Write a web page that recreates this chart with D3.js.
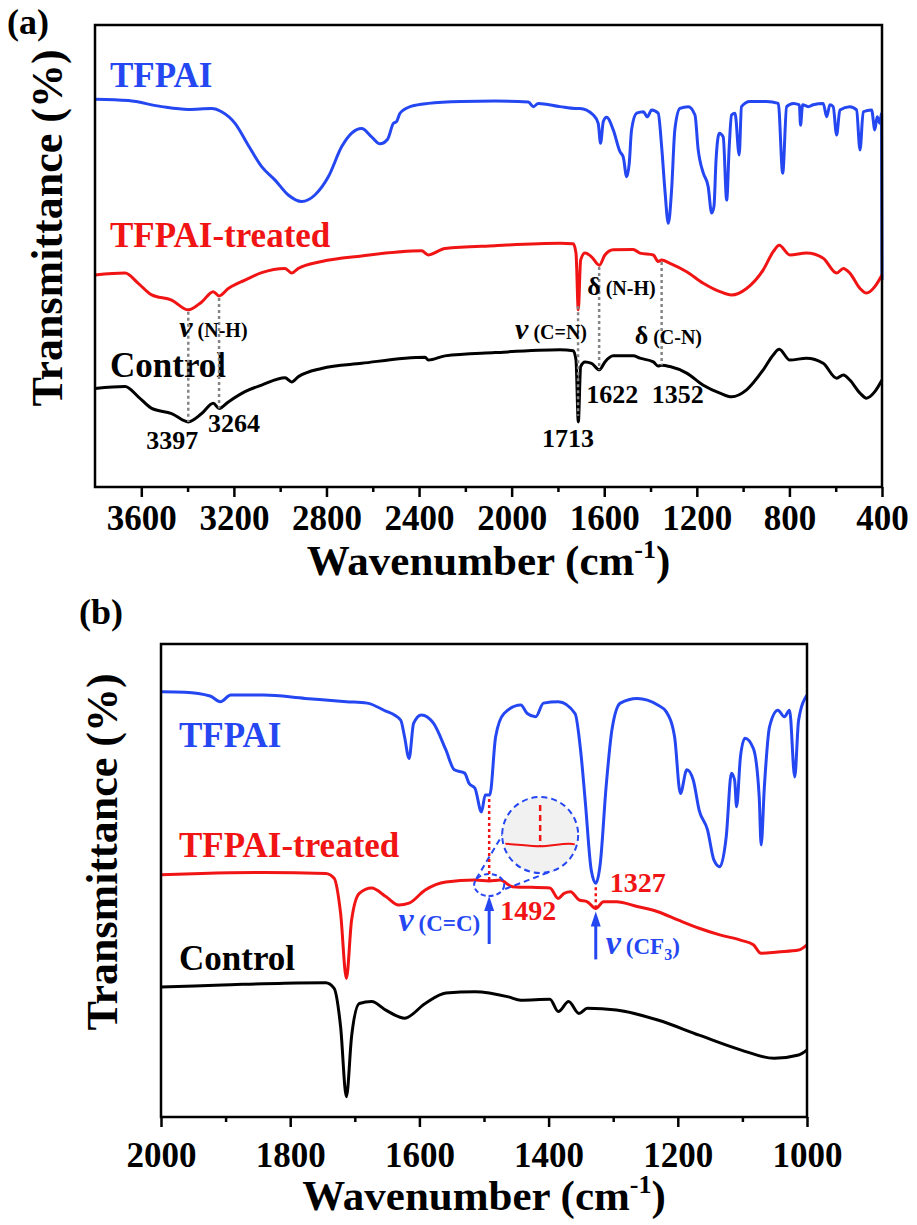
<!DOCTYPE html>
<html>
<head>
<meta charset="utf-8">
<script src="https://cdn.jsdelivr.net/npm/d3@7"></script>
<style>
  body { margin: 0; background: #fff; }
  svg { display: block; }
</style>
</head>
<body>
<svg id="chart" width="917" height="1225"></svg>
<script>
// ---------- panel (a): wavenumber (cm-1) vs transmittance (offset, a.u.) ----------
const aTicks = [3600, 3200, 2800, 2400, 2000, 1600, 1200, 800, 400];
const aMinorTicks = [3400, 3000, 2600, 2200, 1800, 1400, 1000, 600];

const aTfpai = [
  [3800, 83.4], [3656, 83.1], [3512, 81.8], [3397, 81.2], [3296, 81.4], [3253, 80.7],
  [3195, 78.2], [3138, 73.5], [3080, 68.9], [3022, 66.0], [2965, 62.8], [2907, 61.4],
  [2850, 62.8], [2792, 66.7], [2734, 73.2], [2691, 76.1], [2648, 77.1], [2605, 75.3],
  [2569, 73.8], [2536, 74.8], [2511, 78.2], [2497, 78.6], [2482, 80.4], [2432, 81.9],
  [2360, 82.5], [2216, 82.9], [2072, 83.0], [1928, 82.8], [1906, 81.8], [1885, 82.5],
  [1791, 81.8], [1726, 81.4], [1705, 81.4], [1647, 80.0], [1626, 78.2], [1616, 73.9],
  [1604, 78.6], [1590, 79.5], [1561, 76.8], [1532, 72.1], [1518, 71.0], [1503, 66.7],
  [1492, 69.6], [1482, 76.8], [1460, 80.4], [1431, 80.7], [1414, 79.6], [1395, 81.1],
  [1367, 80.4], [1352, 73.2], [1338, 63.9], [1323, 56.7], [1309, 63.9], [1295, 76.8],
  [1273, 81.4], [1237, 81.8], [1208, 80.0], [1194, 72.5], [1187, 70.3], [1172, 67.5],
  [1151, 64.6], [1136, 58.9], [1126, 60.3], [1117, 70.3], [1103, 76.1], [1086, 75.3],
  [1071, 61.7], [1060, 73.2], [1050, 80.0], [1035, 80.4], [1017, 71.4], [1007, 81.8],
  [971, 82.9], [899, 82.9], [848, 82.5], [829, 67.5], [812, 81.8], [783, 82.5],
  [757, 82.2], [752, 77.8], [743, 82.2], [719, 81.8], [697, 82.2], [654, 82.5],
  [639, 79.6], [625, 82.2], [611, 81.8], [596, 75.7], [582, 81.1], [539, 81.8],
  [510, 81.1], [495, 72.5], [481, 80.7], [445, 81.1], [431, 76.8], [421, 79.6],
  [409, 78.2], [402, 80.4], [400, 44.5]
];

const aTreated = [
  [3800, 45.6], [3670, 46.0], [3613, 43.8], [3555, 41.3], [3469, 40.2], [3397, 38.1],
  [3339, 39.8], [3289, 42.0], [3264, 41.1], [3224, 42.7], [3152, 44.5], [3080, 46.1],
  [2979, 47.0], [2950, 46.0], [2922, 47.0], [2821, 48.5], [2648, 49.7], [2389, 50.8],
  [2360, 49.9], [2288, 51.3], [2072, 51.9], [1791, 52.4], [1734, 52.3], [1722, 50.3],
  [1712, 38.1], [1702, 48.8], [1683, 50.3], [1655, 49.5], [1621, 47.7], [1597, 49.9],
  [1561, 51.0], [1475, 51.1], [1446, 50.3], [1388, 49.9], [1367, 48.5], [1352, 48.8],
  [1316, 48.1], [1244, 46.3], [1172, 43.8], [1100, 42.0], [1050, 41.3], [985, 42.7],
  [913, 46.7], [870, 50.6], [844, 52.0], [798, 49.9], [726, 50.3], [654, 49.2],
  [596, 46.0], [567, 47.0], [539, 46.0], [495, 42.7], [467, 41.7], [431, 43.1], [400, 45.6]
];

const aControl = [
  [3800, 21.2], [3670, 21.6], [3613, 19.4], [3555, 16.9], [3469, 15.8], [3397, 14.0],
  [3339, 15.8], [3289, 18.0], [3264, 16.9], [3224, 18.3], [3152, 20.5], [3080, 21.9],
  [2979, 23.5], [2950, 22.6], [2922, 23.7], [2821, 25.5], [2648, 26.6], [2374, 27.9],
  [2360, 27.3], [2288, 28.2], [2072, 28.9], [1791, 29.5], [1734, 29.3], [1722, 27.3],
  [1712, 14.0], [1702, 25.9], [1683, 26.9], [1655, 26.6], [1621, 25.2], [1597, 26.9],
  [1561, 28.2], [1475, 28.2], [1446, 27.7], [1388, 26.9], [1367, 26.0], [1352, 26.2],
  [1316, 25.9], [1244, 24.5], [1172, 21.9], [1100, 20.2], [1050, 19.4], [985, 20.9],
  [913, 25.2], [870, 28.4], [844, 29.6], [798, 27.3], [726, 27.7], [654, 26.6],
  [596, 23.4], [567, 24.1], [539, 23.0], [495, 20.2], [467, 19.1], [431, 20.5], [400, 23.0]
];

const aPeaks = [3397, 3264, 1713, 1622, 1352];

// ---------- panel (b) ----------
const bTicks = [2000, 1800, 1600, 1400, 1200, 1000];
const bMinorTicks = [1900, 1700, 1500, 1300, 1100];

const bTfpai = [
  [2000, 89.9], [1963, 89.8], [1924, 89.0], [1908, 87.8], [1892, 89.2], [1841, 89.2],
  [1777, 88.5], [1713, 87.8], [1681, 87.5], [1655, 86.0], [1629, 83.9], [1623, 80.4],
  [1616, 75.8], [1609, 83.2], [1597, 85.0], [1578, 83.2], [1559, 77.6], [1546, 73.4],
  [1530, 72.7], [1523, 70.5], [1514, 69.5], [1504, 64.5], [1498, 68.1], [1491, 68.1],
  [1482, 80.4], [1469, 85.3], [1443, 87.1], [1433, 85.3], [1420, 84.6], [1408, 87.5],
  [1385, 87.8], [1359, 85.3], [1350, 76.9], [1343, 66.3], [1334, 52.2], [1327, 49.4],
  [1320, 53.6], [1311, 69.8], [1302, 81.8], [1289, 87.5], [1263, 88.5], [1231, 87.1],
  [1218, 85.7], [1205, 80.4], [1196, 68.4], [1186, 73.4], [1176, 71.2], [1167, 64.9],
  [1154, 60.7], [1144, 54.3], [1135, 52.9], [1125, 59.3], [1117, 72.7], [1112, 71.2],
  [1109, 65.6], [1103, 76.2], [1096, 80.1], [1083, 77.9], [1074, 67.7], [1071, 57.5],
  [1066, 69.8], [1058, 82.5], [1045, 86.0], [1035, 84.6], [1027, 86.0], [1019, 71.9],
  [1013, 83.9], [1000, 89.2]
];

const bTreated = [
  [2000, 51.2], [1937, 51.5], [1841, 51.7], [1745, 51.5], [1732, 50.5], [1722, 43.1],
  [1713, 29.3], [1705, 41.6], [1693, 47.3], [1674, 48.4], [1652, 46.6], [1632, 44.8],
  [1616, 45.2], [1591, 48.0], [1559, 49.7], [1514, 50.1], [1492, 49.9], [1475, 50.1],
  [1456, 48.7], [1398, 48.4], [1385, 46.2], [1376, 47.3], [1366, 47.6], [1353, 45.9],
  [1340, 45.5], [1327, 44.1], [1315, 45.5], [1295, 45.5], [1263, 44.5], [1231, 43.4],
  [1199, 41.6], [1167, 39.9], [1135, 38.5], [1103, 37.4], [1083, 36.4], [1071, 34.6],
  [1045, 34.9], [1013, 35.3], [1000, 36.4]
];

const bControl = [
  [2000, 27.5], [1905, 27.9], [1809, 28.3], [1745, 28.4], [1732, 27.2], [1722, 19.1],
  [1713, 4.3], [1705, 17.0], [1693, 24.0], [1674, 24.4], [1652, 22.6], [1623, 20.9],
  [1591, 24.0], [1559, 26.2], [1514, 26.5], [1462, 25.4], [1443, 24.7], [1398, 24.9],
  [1385, 22.3], [1369, 24.4], [1353, 21.9], [1340, 23.0], [1295, 22.6], [1231, 20.5],
  [1167, 17.3], [1103, 14.2], [1051, 12.4], [1013, 13.1], [1000, 14.2]
];

const bPeaks = [1492, 1327];

// ---------- styling ----------
const FONT = '"Liberation Serif", "Times New Roman", serif';
const BLUE = "#2447f2";
const RED = "#f01414";
const GRAY = "#858585";

const svg = d3.select("#chart")
  .attr("font-family", FONT)
  .attr("font-weight", "bold");

// linear lookup of a series value at wavenumber w (series runs high -> low)
function valueAt(series, w) {
  for (let i = 0; i < series.length - 1; i++) {
    const [w0, v0] = series[i];
    const [w1, v1] = series[i + 1];
    if (w <= w0 && w >= w1) return v0 + (v1 - v0) * (w0 - w) / (w0 - w1);
  }
  return series[series.length - 1][1];
}

function drawPanel(p) {
  const x = d3.scaleLinear().domain(p.xDomain).range([p.left, p.right]);
  const y = d3.scaleLinear().domain([0, 100]).range([p.bottom, p.bottom - p.yPix]);
  const g = svg.append("g");

  // minor ticks
  const minor = g.append("g")
    .attr("transform", `translate(0,${p.bottom})`)
    .call(d3.axisBottom(x).tickValues(p.minor).tickSize(5).tickFormat(""));
  minor.select(".domain").remove();
  minor.selectAll("line").attr("stroke", "#000").attr("stroke-width", 2.5);

  // major ticks + labels
  const major = g.append("g")
    .attr("transform", `translate(0,${p.bottom})`)
    .call(d3.axisBottom(x).tickValues(p.major).tickSize(10)
      .tickPadding(p.labelPad).tickFormat(d3.format("d")));
  major.select(".domain").remove();
  major.selectAll("line").attr("stroke", "#000").attr("stroke-width", 2.5);
  major.selectAll("text")
    .attr("font-family", FONT).attr("font-weight", "bold")
    .attr("font-size", 35).attr("fill", "#000");

  // spectra
  const line = d3.line().x(d => x(d[0])).y(d => y(d[1])).curve(d3.curveMonotoneX);
  p.series.forEach(s => {
    g.append("path")
      .datum(s.data)
      .attr("d", line)
      .attr("fill", "none")
      .attr("stroke", s.color)
      .attr("stroke-width", 3)
      .attr("stroke-linejoin", "round");
  });

  // frame
  g.append("rect")
    .attr("x", p.left).attr("y", p.top)
    .attr("width", p.right - p.left).attr("height", p.bottom - p.top)
    .attr("fill", "none").attr("stroke", "#000").attr("stroke-width", 2.5);

  // axis titles
  const xt = g.append("text")
    .attr("x", (p.left + p.right) / 2).attr("y", p.bottom + p.titlePad)
    .attr("text-anchor", "middle").attr("font-size", 43);
  xt.append("tspan").text("Wavenumber (cm");
  xt.append("tspan").attr("font-size", 26).attr("dy", -17).text("-1");
  xt.append("tspan").attr("dy", 17).text(")");

  g.append("text")
    .attr("transform", `translate(${p.yTitleX},${p.yTitleY}) rotate(-90)`)
    .attr("text-anchor", "middle").attr("font-size", 44)
    .text("Transmittance (%)");

  g.append("text")
    .attr("x", p.tagX).attr("y", p.tagY)
    .attr("font-size", 36).text(p.tag);

  // series names
  p.series.forEach(s => {
    g.append("text")
      .attr("x", p.left + p.nameDx).attr("y", y(s.labelAt))
      .attr("font-size", 35).attr("fill", s.color)
      .text(s.name);
  });

  return { x, y, g };
}

// ---------- panel (a) ----------
const A = drawPanel({
  left: 95, right: 882, top: 25, bottom: 487, yPix: 465,
  xDomain: [3800, 400], major: aTicks, minor: aMinorTicks,
  labelPad: 8, titlePad: 88, yTitleX: 62, yTitleY: 228,
  tag: "(a)", tagX: 7, tagY: 34, nameDx: 15,
  series: [
    { name: "TFPAI", data: aTfpai, color: BLUE, labelAt: 86.0 },
    { name: "TFPAI-treated", data: aTreated, color: RED, labelAt: 51.6 },
    { name: "Control", data: aControl, color: "#000", labelAt: 23.7 }
  ]
});

// dotted guides from the treated curve down to the control curve
aPeaks.forEach(w => {
  A.g.append("line")
    .attr("x1", A.x(w)).attr("x2", A.x(w))
    .attr("y1", A.y(valueAt(aTreated, w)) + 2)
    .attr("y2", A.y(valueAt(aControl, w)))
    .attr("stroke", GRAY).attr("stroke-width", 2.5)
    .attr("stroke-dasharray", "3,3");
});

// peak numbers
const aNum = (w, dx, anchor, v) => A.g.append("text")
  .attr("x", A.x(w) + dx).attr("y", A.y(v))
  .attr("text-anchor", anchor).attr("font-size", 26).text(w);
aNum(3397, 10, "end", 8.2);
aNum(3264, -11, "start", 11.8);
aNum(1713, 16, "end", 8.6);
aNum(1622, -13, "start", 18.1);
aNum(1352, -10, "start", 18.1);

// vibration labels
function bandLabel(g, xPos, yPos, sym, italic, inner, symSize, innerSize, color) {
  const t = g.append("text").attr("x", xPos).attr("y", yPos).attr("fill", color);
  t.append("tspan").attr("font-size", symSize)
    .attr("font-style", italic ? "italic" : "normal").text(sym);
  t.append("tspan").attr("font-size", innerSize).attr("dx", 5).text(inner);
  return t;
}
bandLabel(A.g, A.x(3397) - 9, A.y(32.3), "ν", true, "(N-H)", 30, 20, "#000");
bandLabel(A.g, A.x(1713) - 63, A.y(31.8), "ν", true, "(C=N)", 30, 20, "#000");
bandLabel(A.g, A.x(1622) - 12, A.y(41.3), "δ", false, "(N-H)", 26, 20, "#000");
bandLabel(A.g, A.x(1352) - 27, A.y(30.8), "δ", false, "(C-N)", 26, 20, "#000");

// ---------- panel (b) ----------
const B = drawPanel({
  left: 161, right: 807, top: 644, bottom: 1117, yPix: 473,
  xDomain: [2000, 1000], major: bTicks, minor: bMinorTicks,
  labelPad: 15, titlePad: 93, yTitleX: 117, yTitleY: 852,
  tag: "(b)", tagX: 79, tagY: 624, nameDx: 18,
  series: [
    { name: "TFPAI", data: bTfpai, color: BLUE, labelAt: 78.2 },
    { name: "TFPAI-treated", data: bTreated, color: RED, labelAt: 55.0 },
    { name: "Control", data: bControl, color: "#000", labelAt: 31.1 }
  ]
});

// magnifier around the 1492 band
const mw = bPeaks[0];
const ex = B.x(mw), ey = B.y(valueAt(bTreated, mw)) + 4;
const cx = ex + 51, cy = ey - 50, cr = 38;

B.g.append("line").attr("x1", ex - 13).attr("y1", ey - 6).attr("x2", cx - 36).attr("y2", cy - 3)
  .attr("stroke", BLUE).attr("stroke-width", 2).attr("stroke-dasharray", "6,4");
B.g.append("line").attr("x1", ex + 16).attr("y1", ey + 4).attr("x2", cx + 12).attr("y2", cy + 36)
  .attr("stroke", BLUE).attr("stroke-width", 2).attr("stroke-dasharray", "6,4");
B.g.append("ellipse").attr("cx", ex).attr("cy", ey).attr("rx", 15).attr("ry", 11)
  .attr("fill", "none").attr("stroke", BLUE).attr("stroke-width", 2).attr("stroke-dasharray", "5,3");
B.g.append("circle").attr("cx", cx).attr("cy", cy).attr("r", cr)
  .attr("fill", "#f1f1f1").attr("stroke", BLUE).attr("stroke-width", 2).attr("stroke-dasharray", "6,4");

svg.append("defs").append("clipPath").attr("id", "lens")
  .append("circle").attr("cx", cx).attr("cy", cy).attr("r", cr - 2);
const ix = d3.scaleLinear().domain([mw + 20, mw - 20]).range([cx - 34, cx + 34]);
const iy = d3.scaleLinear().domain([49, 51]).range([cy + 22, cy - 2]);
const lens = B.g.append("g").attr("clip-path", "url(#lens)");
lens.append("path")
  .datum(bTreated.filter(d => d[0] <= mw + 70 && d[0] >= mw - 70))
  .attr("d", d3.line().x(d => ix(d[0])).y(d => iy(d[1])).curve(d3.curveMonotoneX))
  .attr("fill", "none").attr("stroke", RED).attr("stroke-width", 2);
lens.append("line")
  .attr("x1", ix(mw)).attr("x2", ix(mw))
  .attr("y1", cy - 30).attr("y2", iy(valueAt(bTreated, mw)))
  .attr("stroke", RED).attr("stroke-width", 2.5).attr("stroke-dasharray", "6,4");

// red dotted guides from TFPAI dip to treated curve
bPeaks.forEach(w => {
  B.g.append("line")
    .attr("x1", B.x(w)).attr("x2", B.x(w))
    .attr("y1", B.y(valueAt(bTfpai, w)) + 4)
    .attr("y2", B.y(valueAt(bTreated, w)))
    .attr("stroke", RED).attr("stroke-width", 2.5)
    .attr("stroke-dasharray", "3,3");
});

// blue arrows
function arrow(w, tipY, len) {
  const ax = B.x(w);
  B.g.append("line").attr("x1", ax).attr("x2", ax).attr("y1", tipY + 10).attr("y2", tipY + len)
    .attr("stroke", BLUE).attr("stroke-width", 3);
  B.g.append("path")
    .attr("d", `M${ax},${tipY} L${ax - 5},${tipY + 15} L${ax + 5},${tipY + 15} Z`)
    .attr("fill", BLUE);
}
arrow(1492, B.y(valueAt(bTreated, 1492)) + 15, 48);
arrow(1327, B.y(valueAt(bTreated, 1327)) + 3, 48);

// peak numbers (red)
B.g.append("text").attr("x", B.x(1492) + 11).attr("y", B.y(41.7))
  .attr("font-size", 28).attr("fill", RED).text("1492");
B.g.append("text").attr("x", B.x(1327) + 14).attr("y", B.y(47.6))
  .attr("font-size", 28).attr("fill", RED).text("1327");

// band labels (blue)
bandLabel(B.g, B.x(1492) - 9, B.y(39.3), "ν", true, "(C=C)", 34, 23, BLUE)
  .attr("text-anchor", "end");
const cf = B.g.append("text").attr("x", B.x(1327) + 10).attr("y", B.y(34.5)).attr("fill", BLUE);
cf.append("tspan").attr("font-size", 34).attr("font-style", "italic").text("ν");
cf.append("tspan").attr("font-size", 23).attr("dx", 5).text("(CF");
cf.append("tspan").attr("font-size", 16).attr("dy", 6).text("3");
cf.append("tspan").attr("font-size", 23).attr("dy", -6).text(")");
</script>
</body>
</html>
